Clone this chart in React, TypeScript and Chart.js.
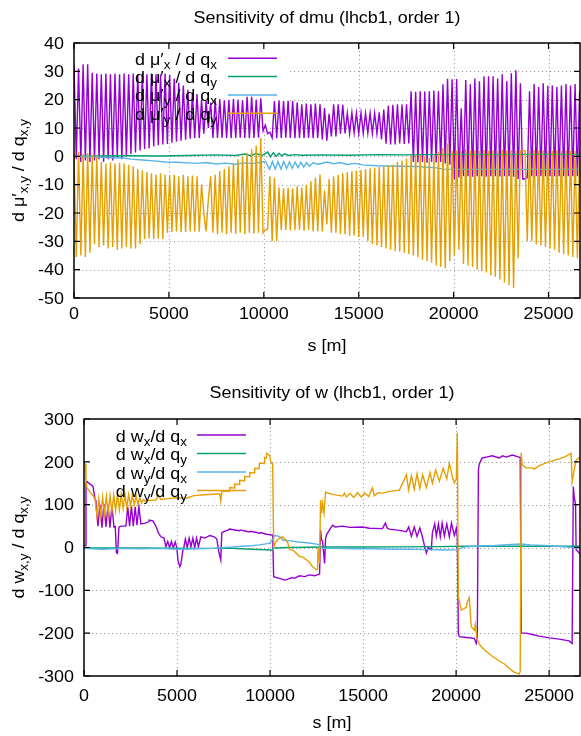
import React, { useEffect, useRef } from 'react';
import { Chart, registerables } from 'chart.js';
Chart.register(...registerables);

const FONT = '"Liberation Sans", Arial, Helvetica, sans-serif';
const FS = 16;
const SX = 1.12;

const PURPLE = '#9400d3';
const GREEN = '#009e73';
const BLUE = '#56b4e9';
const ORANGE = '#e69f00';

// ---------- axis ticks ----------
const X_TICKS = [0, 5000, 10000, 15000, 20000, 25000];
const TOP_Y_TICKS = [-50, -40, -30, -20, -10, 0, 10, 20, 30, 40];
const BOTTOM_Y_TICKS = [-300, -200, -100, 0, 100, 200, 300];
const RING_LENGTH = 26659;

// ---------- top panel: d mu' / d q  (sampled every TOP_STEP metres) ----------
const TOP_STEP = 120;
const dmuxdqx = [
  32.5, -1, 31, -2, 32.5, -1.5, 32.5, -2, 29.5, -1.5,
  29.2, -1, 29, -2, 29.2, -1, 29, -1.5, 29.2, -0.5,
  29, -1, 29.2, 0, 29, 0.8, 29.2, 1.4, 29, 2.1,
  29.2, 2.6, 29, 2.9, 29.2, 3.5, 29, 3.9, 29, 4.2,
  29.2, 4.4, 28.8, 4.8, 27.5, 5.2, 26, 5.5, 25, 5.9,
  23.5, 6.2, 22.5, 6.4, 22, 6.5, 20, 8, 19.5, 10,
  19, 6.5, 20, 6.5, 20.2, 6.6, 19.8, 6.5, 20, 6.4,
  20.2, 6.5, 20, 6.6, 19.8, 6.5, 21, 6.4, 21, 6.5,
  20, 6.6, 20.5, 9, 11, 8, 8.5, 6.5, 19.5, 6.4,
  19.8, 6.5, 19.5, 6.6, 19.6, 6.5, 19.5, 6.4, 19, 6.5,
  18.4, 6.4, 18.6, 6.5, 18.4, 6.4, 18.6, 6.5, 18.4, 6,
  17, 5.5, 15, 7, 18.4, 7, 18.4, 8, 18.2, 8.1,
  15.2, 8.1, 15.4, 8.3, 15.2, 8, 15.3, 8.1, 15.2, 8.2,
  15.3, 8.1, 15.2, 8, 15.5, 6, 16.5, 4.5, 17.8, 4.2,
  18.2, 4.2, 18.4, 4.5, 18.3, 4.4, 18.4, 4.5, 23, -2,
  22.8, -2.2, 23, -2, 22.9, -2.3, 23, -2, 23.2, -2.2,
  23, -2, 25.4, -2.5, 27.4, -3, 27.2, -8, 27.3, -7.5,
  17, -7, 26.9, -7, 25.4, -7.2, 27.5, -7, 26.5, -7,
  28.3, -7.2, 28.3, -7, 28.3, -7, 27.5, -7.1, 29, -7,
  26.5, -7, 29.3, -7.2, 30.4, -8, 25.8, -8, -8, -7.5,
  23, -7, 25.5, -7, 24.5, -7, 25.8, -7, 25, -7,
  25, -7, 24.5, -7, 25, -7, 25.5, -7, 25, -7,
  25.5, -7, 23,
];
const dmuydqy = [
  1, -35.5, 1.5, -35, 0.8, -35.5, 1.2, -34, 0.5, -31,
  0, -32, -2, -31.5, -2.5, -32.5, -2.2, -32, -2.5, -33,
  -2.3, -32.5, -2.5, -32, -3, -32.5, -3.5, -32.5, -4.5, -31,
  -5, -29.3, -5.5, -29, -6, -29.3, -6.5, -29, -6, -29.2,
  -6.5, -27, -6.8, -26.7, -6.5, -26.5, -7, -26.8, -6.5, -26.7,
  -7, -26.5, -6.8, -26.5, -7, -26.6, -10, -20, -26.5, -15,
  -7, -27, -6.5, -27.5, -5.3, -27, -4.5, -27.5, -3.5, -27,
  -2.5, -27.3, -1, -27, 0, -27.5, 1.2, -27, 2.5, -27.2,
  3.8, -27, 6.5, -27, -25.8, -25.8, -7, -30, -7.5, -30,
  -11, -26, -11.3, -26, -11, -26.2, -11.3, -26, -10.6, -26,
  -11, -26.3, -10, -26, -8.8, -26.5, -7.5, -26.5, -6.4, -26.5,
  -12, -24, -8, -27, -7, -27, -6.5, -27.5, -6, -27.5,
  -5.5, -28, -5.3, -28, -5, -28.5, -4.8, -28.5, -4.5, -30,
  -4.2, -31, -4, -31.5, -3.8, -32, -3.5, -32.5, -3.2, -33,
  -3, -33.5, -2, -33.6, -1.5, -34, -0.8, -34.5, 0.5, -35,
  0.8, -35.5, 0.5, -36.5, 0, -37, -0.5, -37.5, 0, -38.5,
  1.5, -39, 3, -39.6, 4.6, -37, 2, -35, 2, -33,
  2, -38, 2.5, -38.5, 2, -39, 2.2, -40, 2, -40.5,
  2.3, -41, 2, -42, 2.2, -42.5, 2, -43.5, 2.3, -44.5,
  2, -45.5, 2.2, -46.5, 2, -36, 2, 2, 2, -30,
  2, -30, 2.2, -31, 2, -31.5, 2.2, -32, 2, -32.5,
  2, -33, 2.2, -34, 2, -34.5, 2.2, -35, 2, -35.5,
  2, -36, 2,
];
const dmuxdqy = [
  [0, 0], [1500, 0.1], [3000, 0.2], [4500, 0.1], [6000, 0.3], [7500, 0.5], [8500, 0.3],
  [9000, 0.8], [9300, 0.2], [9600, 1], [9900, 0.3], [10200, 1.5], [10350, -0.2], [10500, 1.3],
  [10650, 0], [10800, 1.1], [10950, 0.1], [11100, 0.9], [11300, 0.3], [11600, 0.6], [12000, 0.4],
  [13000, 0.5], [14500, 0.4], [16000, 0.6], [17500, 0.5], [19000, 0.6], [20500, 0.7], [22000, 0.6],
  [23500, 0.7], [25000, 0.7], [26659, 0.7],
];
const dmuydqx = [
  [0, 0], [1000, -0.2], [2000, -0.5], [2600, -0.6], [3000, -1], [3600, -1.3], [4200, -1.6],
  [4800, -2], [5400, -2.1], [6000, -2.3], [6500, -2.5], [7000, -2.2], [7500, -2.7], [8000, -2.4],
  [8500, -2.8], [9000, -2.3], [9500, -2.5], [9900, -2.0], [10100, -1.8], [10300, -4.6], [10450, -1.8],
  [10600, -4.5], [10750, -1.9], [10900, -4.5], [11050, -1.9], [11200, -4.3], [11350, -2], [11500, -4.2],
  [11650, -2], [11800, -4], [11950, -2.1], [12100, -3.8], [12250, -2.2], [12400, -3.5], [12600, -2.3],
  [12900, -2.8], [13300, -2], [13700, -2.6], [14000, -2.2], [14400, -2.9], [14800, -2.5], [15200, -3],
  [16000, -3.3], [17000, -3.5], [18000, -3.6], [19000, -4], [19500, -4.5], [21000, -4.6], [23000, -4.6],
  [26659, -4.6],
];

// ---------- bottom panel: d w / d q  ([s, value] pairs) ----------
const dwxdqx = [
  [0, 0], [60, 5], [107, 150], [161, 154], [322, 148], [480, 143], [600, 111],
  [644, 104], [750, 50], [858, 100], [965, 46], [1070, 102], [1180, 48], [1290, 100], [1395, 46],
  [1500, 98], [1610, 48], [1680, 49], [1740, -12], [1800, -14], [1880, 48], [2000, 50], [2253, 50],
  [2350, 95], [2450, 50], [2550, 96], [2650, 50], [2750, 95], [2850, 52], [2950, 96], [3058, 55],
  [3273, 57], [3487, 60], [3500, 64], [3700, 62], [3863, 50], [4000, 34], [4131, 25], [4300, 22], [4399, 2],
  [4500, 14], [4600, 0], [4700, 14], [4800, -1], [4900, 13], [4990, -1], [5050, -30], [5150, -45],
  [5204, -40], [5300, -10], [5365, 0],
  [5450, 20], [5550, 0], [5650, 22], [5750, 2], [5850, 22], [5950, 0], [6050, 22], [6150, 2], [6277, 25],
  [6500, 22], [6760, 28], [7000, 25], [7135, 20], [7250, -10], [7350, -29], [7404, 34], [7511, 37],
  [7700, 40], [7833, 43], [8100, 41], [8369, 39], [8400, 41], [8700, 38], [8906, 36], [8950, 38],
  [9300, 35], [9442, 33], [9500, 35], [9800, 31], [10140, 29],
  [10194, -68], [10500, -72], [10800, -76], [10945, -74], [11213, -70], [11300, -72], [11588, -66],
  [11857, -68], [12125, -64], [12393, -66], [12661, -62],
  [12715, 40], [12769, 17], [12822, 15], [12930, -37], [12983, 20], [13037, 30], [13359, 52], [13500, 48],
  [13895, 50], [14271, 47], [14968, 48], [15344, 45], [16041, 44], [16200, 57], [16300, 45], [16417, 43],
  [16953, 40], [17329, 37],
  [17450, 48], [17600, 26], [17750, 48], [17900, 26], [18050, 46], [18187, 25], [18295, 5], [18402, -13],
  [18500, 0], [18670, -5], [18724, 34],
  [18850, 55], [18938, 27], [19050, 55], [19150, 25], [19250, 57], [19368, 27], [19500, 55], [19636, 25],
  [19750, 57], [19904, 28], [20011, 45], [20065, 25],
  [20119, -200], [20172, -208], [20548, -210], [20977, -212], [21084, -224], [21138, -210], [21200, 181],
  [21245, 195], [21353, 205], [21406, 209], [21621, 211], [21943, 214], [22318, 209], [22500, 214],
  [22694, 211], [23016, 216], [23300, 212], [23445, 210], [23499, -200],
  [23767, -200], [24089, -203], [24464, -207], [25001, -211], [25537, -214], [26074, -218], [26235, -224],
  [26300, 142], [26342, 120], [26420, 100], [26450, -5], [26560, -10], [26659, -15],
];
const dwydqy = [
  [0, 197], [60, 195], [107, 150], [161, 140], [322, 130], [537, 118],
  [600, 112], [700, 72], [800, 114], [900, 74], [1000, 117], [1100, 78], [1200, 119], [1300, 80],
  [1400, 121], [1500, 84], [1600, 123], [1700, 86], [1800, 124], [1900, 88], [2000, 125], [2100, 91],
  [2200, 125], [2300, 94], [2400, 124], [2500, 96], [2600, 122], [2700, 99], [2800, 120], [2900, 101],
  [3000, 116], [3100, 104], [3200, 112],
  [3273, 108], [3500, 110], [3863, 111], [4000, 122], [4131, 112], [4500, 114], [5000, 116], [5500, 115],
  [5902, 121], [6500, 123], [7135, 125], [7296, 125], [7350, 109], [7404, 130], [7565, 132],
  [7800, 131], [7833, 140], [8070, 139], [8101, 148], [8340, 147], [8369, 157], [8600, 156], [8637, 166],
  [8870, 165], [8906, 175], [9140, 174], [9174, 185], [9400, 184], [9442, 197], [9680, 196], [9710, 210],
  [9800, 209], [9818, 220], [9979, 215], [10033, 200], [10140, 195],
  [10194, 0], [10301, 13], [10500, 22], [10676, 25], [10784, 20], [10945, 12], [11052, -5], [11213, -6],
  [11374, -12], [11588, -21], [11750, -22], [11964, -29], [12125, -35], [12286, -45], [12500, -52],
  [12554, -50], [12580, 0], [12661, -37], [12715, 111], [12769, 80], [12822, 104], [12900, 80], [12983, 130],
  [13037, 128], [13359, 124], [13895, 120], [14000, 127], [14100, 118], [14300, 126], [14500, 117],
  [14700, 128], [14900, 118], [15100, 127], [15300, 119], [15500, 139], [15600, 121], [15800, 128],
  [16041, 127], [16417, 131], [16953, 134],
  [17329, 170], [17450, 134], [17600, 168], [17750, 136], [17900, 172], [18050, 138], [18200, 170],
  [18400, 140], [18600, 175], [18724, 150],
  [18900, 181], [19100, 155], [19300, 185], [19500, 160], [19636, 197], [19800, 165], [19904, 151],
  [20011, 160], [20065, 268],
  [20119, -115], [20280, -146], [20548, -140], [20602, -127], [20709, -117], [20816, -185], [20977, -193],
  [21030, -180], [21138, -216], [21245, -225], [21353, -232], [21621, -243], [21943, -254], [22318, -265],
  [22600, -272], [22900, -284], [23123, -291], [23391, -295], [23445, -290], [23499, 221], [23553, 193],
  [23767, 186], [24089, 186], [24200, 183], [24464, 191], [24800, 197], [25001, 200], [25300, 204],
  [25537, 207], [25800, 211], [26000, 215], [26180, 220], [26235, 153], [26342, 180], [26450, 204],
  [26659, 211],
];
const dwxdqy = [
  [0, -1], [3000, -1], [6000, -2], [8000, -2], [9000, -4], [10100, -6], [10200, -1], [11000, 0],
  [13000, 1], [15000, 1], [17000, 1.5], [19000, 2], [20500, 3], [23000, 3], [26659, 3],
];
const dwydqx = [
  [0, -2], [1000, -4], [2000, -2], [3000, -3], [4000, -2], [5000, -4], [6000, -3], [7000, -2],
  [7600, 0], [8000, 1], [8500, 3], [9000, 4], [9400, 6], [9700, 8], [10000, 10], [10140, 19],
  [10250, 28], [10500, 26], [10700, 17], [11000, 16], [11500, 13], [12000, 11], [12500, 8], [12700, 6],
  [12800, -2], [13500, -2], [14500, -3], [15500, -3], [16500, -4], [17500, -4], [18500, -5], [19500, -6],
  [20100, -5], [20400, 1], [21000, 3], [21500, 4], [22000, 4], [22500, 6], [23000, 7], [23500, 8],
  [24000, 6], [25000, 4], [26000, 1], [26400, -1], [26659, -2],
];

// ---------- text helpers ----------
type Seg = [string, boolean];

function drawRich(ctx: CanvasRenderingContext2D, segs: Seg[], x: number, y: number, align: string, sx = SX) {
  const subFs = FS * 0.75;
  let w = 0;
  for (const [t, sub] of segs) {
    ctx.font = `${sub ? subFs : FS}px ${FONT}`;
    w += ctx.measureText(t).width;
  }
  ctx.save();
  ctx.translate(x, y);
  ctx.scale(sx, 1);
  ctx.textAlign = 'left';
  ctx.textBaseline = 'alphabetic';
  let cx = align === 'right' ? -w : align === 'center' ? -w / 2 : 0;
  for (const [t, sub] of segs) {
    ctx.font = `${sub ? subFs : FS}px ${FONT}`;
    ctx.fillText(t, cx, sub ? FS * 0.25 : 0);
    cx += ctx.measureText(t).width;
  }
  ctx.restore();
}

const VC = FS * 0.36; // baseline offset for vertical centring

const toPts = (arr: number[][]) => arr.map(([x, y]) => ({ x, y }));
const gridPts = (arr: number[]) => arr.map((y, i) => ({ x: i * TOP_STEP, y }));

const TOP = {
  title: 'Sensitivity of dmu (lhcb1, order 1)',
  yMin: -50, yMax: 40, yTicks: TOP_Y_TICKS,
  padTop: 43, xHeight: 70, yWidth: 74,
  titleX: 327, titleY: 17, xLabelY: 313, yLabelRight: 64, sLabelY: 345,
  legendTextRight: 217, sampleX0: 228, sampleX1: 277, legendY0: 58.3, legendDy: 18.3,
  legendBoxRight: 287, legendBoxBottom: 124,
  yTitle: [['d μ′', false], ['x,y', true], [' / d q', false], ['x,y', true]] as Seg[],
  legend: [
    [['d μ′', false], ['x', true], [' / d q', false], ['x', true]],
    [['d μ′', false], ['x', true], [' / d q', false], ['y', true]],
    [['d μ′', false], ['y', true], [' / d q', false], ['x', true]],
    [['d μ′', false], ['y', true], [' / d q', false], ['y', true]],
  ] as Seg[][],
  series: [gridPts(dmuxdqx), toPts(dmuxdqy), toPts(dmuydqx), gridPts(dmuydqy)],
};

const BOTTOM = {
  title: 'Sensitivity of w (lhcb1, order 1)',
  yMin: -300, yMax: 300, yTicks: BOTTOM_Y_TICKS,
  padTop: 51, xHeight: 60, yWidth: 84,
  titleX: 332, titleY: 24, xLabelY: 327.5, yLabelRight: 74, sLabelY: 354,
  legendTextRight: 187, sampleX0: 197, sampleX1: 246, legendY0: 67, legendDy: 18.5,
  legendBoxRight: 270, legendBoxBottom: 130,
  yTitle: [['d w', false], ['x,y', true], [' / d q', false], ['x,y', true]] as Seg[],
  legend: [
    [['d w', false], ['x', true], ['/d q', false], ['x', true]],
    [['d w', false], ['x', true], ['/d q', false], ['y', true]],
    [['d w', false], ['y', true], ['/d q', false], ['x', true]],
    [['d w', false], ['y', true], ['/d q', false], ['y', true]],
  ] as Seg[][],
  series: [toPts(dwxdqx), toPts(dwxdqy), toPts(dwydqx), toPts(dwydqy)],
};

const COLORS = [PURPLE, GREEN, BLUE, ORANGE];

function framePlugin(cfg: any) {
  return {
    id: 'gnuframe',
    beforeDatasetsDraw(chart: any) {
      const { ctx, chartArea: a } = chart;
      const xs = chart.scales.x;
      const ys = chart.scales.y;
      ctx.save();
      ctx.strokeStyle = '#a0a0a0';
      ctx.lineWidth = 1;
      ctx.setLineDash([1.2, 2.8]);
      ctx.beginPath();
      for (const v of X_TICKS) {
        const px = Math.round(xs.getPixelForValue(v)) + 0.5;
        if (px <= a.left + 2 || px >= a.right - 2) continue;
        ctx.moveTo(px, a.top);
        ctx.lineTo(px, a.bottom);
      }
      for (const v of cfg.yTicks) {
        const py = Math.round(ys.getPixelForValue(v)) + 0.5;
        if (py <= a.top + 2 || py >= a.bottom - 2) continue;
        ctx.moveTo(a.left, py);
        ctx.lineTo(a.right, py);
      }
      ctx.stroke();
      ctx.setLineDash([]);
      ctx.fillStyle = '#ffffff';
      ctx.fillRect(a.left + 1, a.top + 1, cfg.legendBoxRight - a.left - 1, cfg.legendBoxBottom - a.top - 1);
      ctx.restore();
    },
    afterDatasetsDraw(chart: any) {
      const { ctx, chartArea: a } = chart;
      const xs = chart.scales.x;
      const ys = chart.scales.y;
      ctx.save();
      ctx.strokeStyle = '#000';
      ctx.lineWidth = 1.5;
      ctx.strokeRect(a.left, a.top, a.right - a.left, a.bottom - a.top);
      ctx.lineWidth = 1.2;
      ctx.beginPath();
      for (const v of X_TICKS) {
        const px = xs.getPixelForValue(v);
        ctx.moveTo(px, a.bottom); ctx.lineTo(px, a.bottom - 6);
        ctx.moveTo(px, a.top); ctx.lineTo(px, a.top + 6);
      }
      for (const v of cfg.yTicks) {
        const py = ys.getPixelForValue(v);
        ctx.moveTo(a.left, py); ctx.lineTo(a.left + 6, py);
        ctx.moveTo(a.right, py); ctx.lineTo(a.right - 6, py);
      }
      ctx.stroke();
      ctx.fillStyle = '#000';
      for (const v of X_TICKS) drawRich(ctx, [[String(v), false]], xs.getPixelForValue(v), cfg.xLabelY + VC, 'center');
      for (const v of cfg.yTicks) drawRich(ctx, [[String(v), false]], cfg.yLabelRight, ys.getPixelForValue(v) + VC, 'right');
      drawRich(ctx, [[cfg.title, false]], cfg.titleX, cfg.titleY + VC, 'center');
      drawRich(ctx, [['s [m]', false]], cfg.titleX, cfg.sLabelY + VC, 'center');
      ctx.save();
      ctx.translate(18, (a.top + a.bottom) / 2);
      ctx.rotate(-Math.PI / 2);
      drawRich(ctx, cfg.yTitle, 0, VC, 'center', SX);
      ctx.restore();
      cfg.legend.forEach((segs: Seg[], k: number) => {
        const ly = cfg.legendY0 + k * cfg.legendDy;
        ctx.fillStyle = '#000';
        drawRich(ctx, segs, cfg.legendTextRight, ly + 6.5, 'right');
        ctx.strokeStyle = COLORS[k];
        ctx.lineWidth = 1.5;
        ctx.beginPath();
        ctx.moveTo(cfg.sampleX0, ly);
        ctx.lineTo(cfg.sampleX1, ly);
        ctx.stroke();
      });
      ctx.restore();
    },
  };
}

function Panel({ cfg, top }: { cfg: any; top: number }) {
  const ref = useRef<HTMLCanvasElement>(null);
  useEffect(() => {
    const chart = new Chart(ref.current as HTMLCanvasElement, {
      type: 'line',
      data: {
        datasets: cfg.series.map((pts: any, k: number) => ({
          data: pts,
          borderColor: COLORS[k],
          borderWidth: 1.4,
          pointRadius: 0,
          fill: false,
          tension: 0,
          order: 3 - k,
        })),
      },
      options: {
        animation: false,
        responsive: false,
        events: [],
        layout: { padding: { top: cfg.padTop, right: 1, left: 0, bottom: 0 } },
        plugins: { legend: { display: false }, title: { display: false }, tooltip: { enabled: false } },
        scales: {
          x: {
            type: 'linear', min: 0, max: RING_LENGTH,
            ticks: { display: false },
            grid: { display: false },
            border: { display: false },
            afterFit: (s: any) => { s.height = cfg.xHeight; },
          },
          y: {
            type: 'linear', min: cfg.yMin, max: cfg.yMax,
            ticks: { display: false },
            grid: { display: false },
            border: { display: false },
            afterFit: (s: any) => { s.width = cfg.yWidth; },
          },
        },
      } as any,
      plugins: [framePlugin(cfg)],
    });
    return () => chart.destroy();
  }, []);
  return (
    <canvas
      ref={ref}
      width={581}
      height={368}
      style={{ position: 'absolute', left: 0, top, width: 581, height: 368 }}
    />
  );
}

export default function App() {
  return (
    <div style={{ position: 'absolute', left: 0, top: 0, width: 581, height: 736, background: '#ffffff', overflow: 'hidden' }}>
      <Panel cfg={TOP} top={0} />
      <Panel cfg={BOTTOM} top={368} />
    </div>
  );
}
